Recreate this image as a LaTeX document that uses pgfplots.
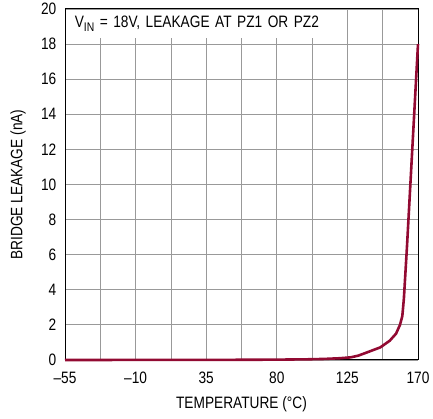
\documentclass[border=0pt]{standalone}
\usepackage{fontspec}
\setmainfont{Liberation Sans}[FakeStretch=0.83]
\usepackage{pgfplots}
\pgfplotsset{compat=1.18}
\definecolor{curve}{HTML}{920A32}
\newcommand{\lblfont}{\fontsize{16.5pt}{19pt}\selectfont}
\begin{document}
\lblfont
\begin{tikzpicture}
\useasboundingbox (0,0) rectangle (433pt,419pt);
\begin{axis}[
  at={(65pt,59pt)}, anchor=south west,
  scale only axis,
  width=353pt, height=351pt,
  xmin=-55, xmax=170, ymin=0, ymax=20,
  xtick={-55,-10,35,80,125,170},
  xticklabels={–55,–10,35,80,125,170},
  minor xtick={-32.5,12.5,57.5,102.5,147.5},
  ytick={0,2,...,20},
  grid=both,
  major grid style={gray!80, line width=0.8pt},
  minor grid style={gray!80, line width=0.8pt},
  axis line style={black, line width=1pt},
  major tick length=0pt, minor tick length=0pt,
  /pgf/number format/assume math mode=true,
  tick label style={font=\lblfont},
  label style={font=\lblfont},
  xlabel={TEMPERATURE (°C)},
  ylabel={BRIDGE LEAKAGE (nA)},
  xticklabel style={yshift=-6pt},
  yticklabel style={xshift=-3pt},
  xlabel style={yshift=-2pt},
  ylabel style={yshift=4pt},
  clip=false,
]
\addplot[curve, line width=2.6pt, line join=round] coordinates {
  (-55,0) (0,0.005) (50,0.01) (80,0.02) (100,0.04) (110,0.06)
  (120,0.1) (127,0.15) (132,0.25) (138,0.45) (146,0.72) (152,1.1)
  (156,1.5) (158.5,2.0) (160,2.5) (161,3.5) (162,5) (163,6.5) (170,18)
};
\node[anchor=north west, fill=white, inner sep=0pt, minimum height=28pt,
      text width=280pt, align=left, xshift=0.6pt, yshift=-0.6pt]
  at (axis cs:-55,20) {\hspace{9pt}V\raisebox{-3.5pt}{\fontsize{12.5pt}{14pt}\selectfont IN} = 18V, LEAKAGE AT PZ1 OR PZ2};
\end{axis}
\end{tikzpicture}
\end{document}
